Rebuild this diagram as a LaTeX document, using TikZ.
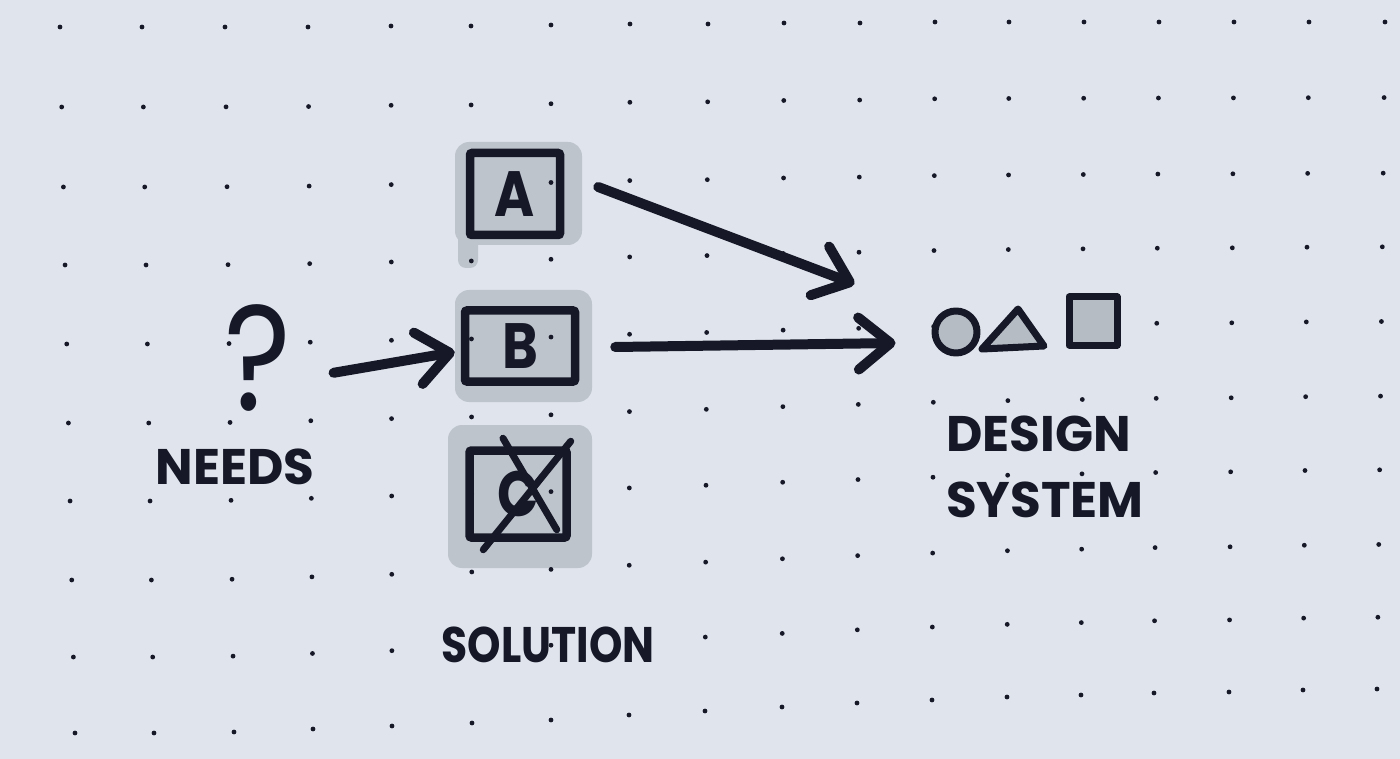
\documentclass[tikz,border=0pt]{standalone}
\usepackage{fontspec}
\setmainfont{Poppins}
\newfontfamily\narrowhand{Poppins}[FakeStretch=0.85]
\usetikzlibrary{arrows.meta}
\definecolor{paper}{RGB}{224,229,237}
\definecolor{ink}{RGB}{22,24,40}
\definecolor{marker}{RGB}{190,196,204}
\definecolor{shade}{RGB}{182,188,196}

\def\topx{{60,142,225,308,391,471,551,630,708,784,860,935,1009,1084,1159,1234,1309,1385}}
\def\botx{{75,154,234,313,392,472,551,629,705,782,857,932,1007,1081,1154,1229,1303,1377}}
\def\topy{{27,27,27,27,26,26,25,24,24,23,23,22,22,22,22,22,22,22}}
\def\boty{{733,733,732,729,726,723,720,715,711,707,703,700,697,695,693,692,690,689}}
\def\rowr{{0,0.1133,0.2266,0.3371,0.4490,0.5609,0.6714,0.7833,0.8924,1}}

\begin{document}
\begin{tikzpicture}[
            x=1pt, y=-1pt,
            box/.style={
                draw=ink,
                line width=8.5pt,
                rounded corners=2pt,
                inner sep=0pt,
                text=ink,
                font=\fontsize{64}{64}\selectfont\narrowhand\bfseries
            },
            word/.style={
                text=ink,
                inner sep=0pt,
                font=\fontsize{50}{66}\selectfont\bfseries
            },
            hilite/.style={
                fill=marker,
                rounded corners=14pt
            },
            piece/.style={
                draw=ink,
                fill=shade,
                line width=7pt,
                line join=round
            },
            arr/.style={
                draw=ink,
                line width=10pt,
                line cap=round,
                -{Straight Barb[length=32pt,width=52pt,round]}
            }
        ]

            \fill[paper] (0,0) rectangle (1400,759);
            \useasboundingbox (0,0) rectangle (1400,759);

            \fill[hilite] (455,142) rectangle (582,245);
            \fill[hilite, rounded corners=8pt] (458,228) rectangle (478,268);
            \fill[hilite] (455,290) rectangle (592,402);
            \fill[hilite] (448,425) rectangle (592,568);

            \foreach \i in {0,...,17} {
                \foreach \j in {0,...,9} {
                    \pgfmathsetmacro\r{\rowr[\j]}
                    \pgfmathsetmacro\dx{\topx[\i]+(\botx[\i]-\topx[\i])*\r}
                    \pgfmathsetmacro\dy{\topy[\i]+(\boty[\i]-\topy[\i])*\r}
                    \fill[ink] (\dx,\dy) circle (2.4);
                }
            }

            \node[text=ink, inner sep=0pt, text height=104pt, text depth=0pt,
                font=\fontsize{150}{150}\selectfont\narrowhand, anchor=south] (need) at (258,411) {?};
            \node[word] (needLbl) at (235,467) {NEEDS};

            \node[box, minimum width=90pt, minimum height=82pt] (solA) at (515,194) {A};
            \node[box, minimum width=110pt, minimum height=71pt] (solB) at (520,346) {B};
            \node[box, minimum width=97pt, minimum height=87pt] (solC) at (518,494) {C};
            \node[word, font=\fontsize{50}{66}\selectfont\narrowhand\bfseries] (solLbl) at (548,645) {SOLUTION};

            \draw[ink, line width=7pt, line cap=round] ([shift={(-15,-8)}]solC.north) -- ([shift={(-14,-12)}]solC.south east);
            \draw[ink, line width=7pt, line cap=round] ([shift={(0,-5)}]solC.north east) -- ([shift={(18,8)}]solC.south west);

            \node[piece, circle, minimum size=42pt, inner sep=0pt] (circ) at (956,332) {};
            \draw[piece] (982,349) -- (1018,309) -- (1044,346) -- cycle;
            \node[piece, minimum width=48pt, minimum height=48pt] (sq) at (1093,321) {};
            \node[word, align=left, anchor=west] (dsLbl) at (946,467) {DESIGN\\SYSTEM};

            \draw[arr] ([shift={(42,14)}]need.east) -- ([shift={(-6,6)}]solB.west);
            \draw[arr] ([shift={(34,-7)}]solA.east) -- ([shift={(-77,-48)}]circ.west);
            \draw[arr] ([shift={(36,1)}]solB.east) -- ([shift={(-36,11)}]circ.west);

        \end{tikzpicture}
\end{document}
